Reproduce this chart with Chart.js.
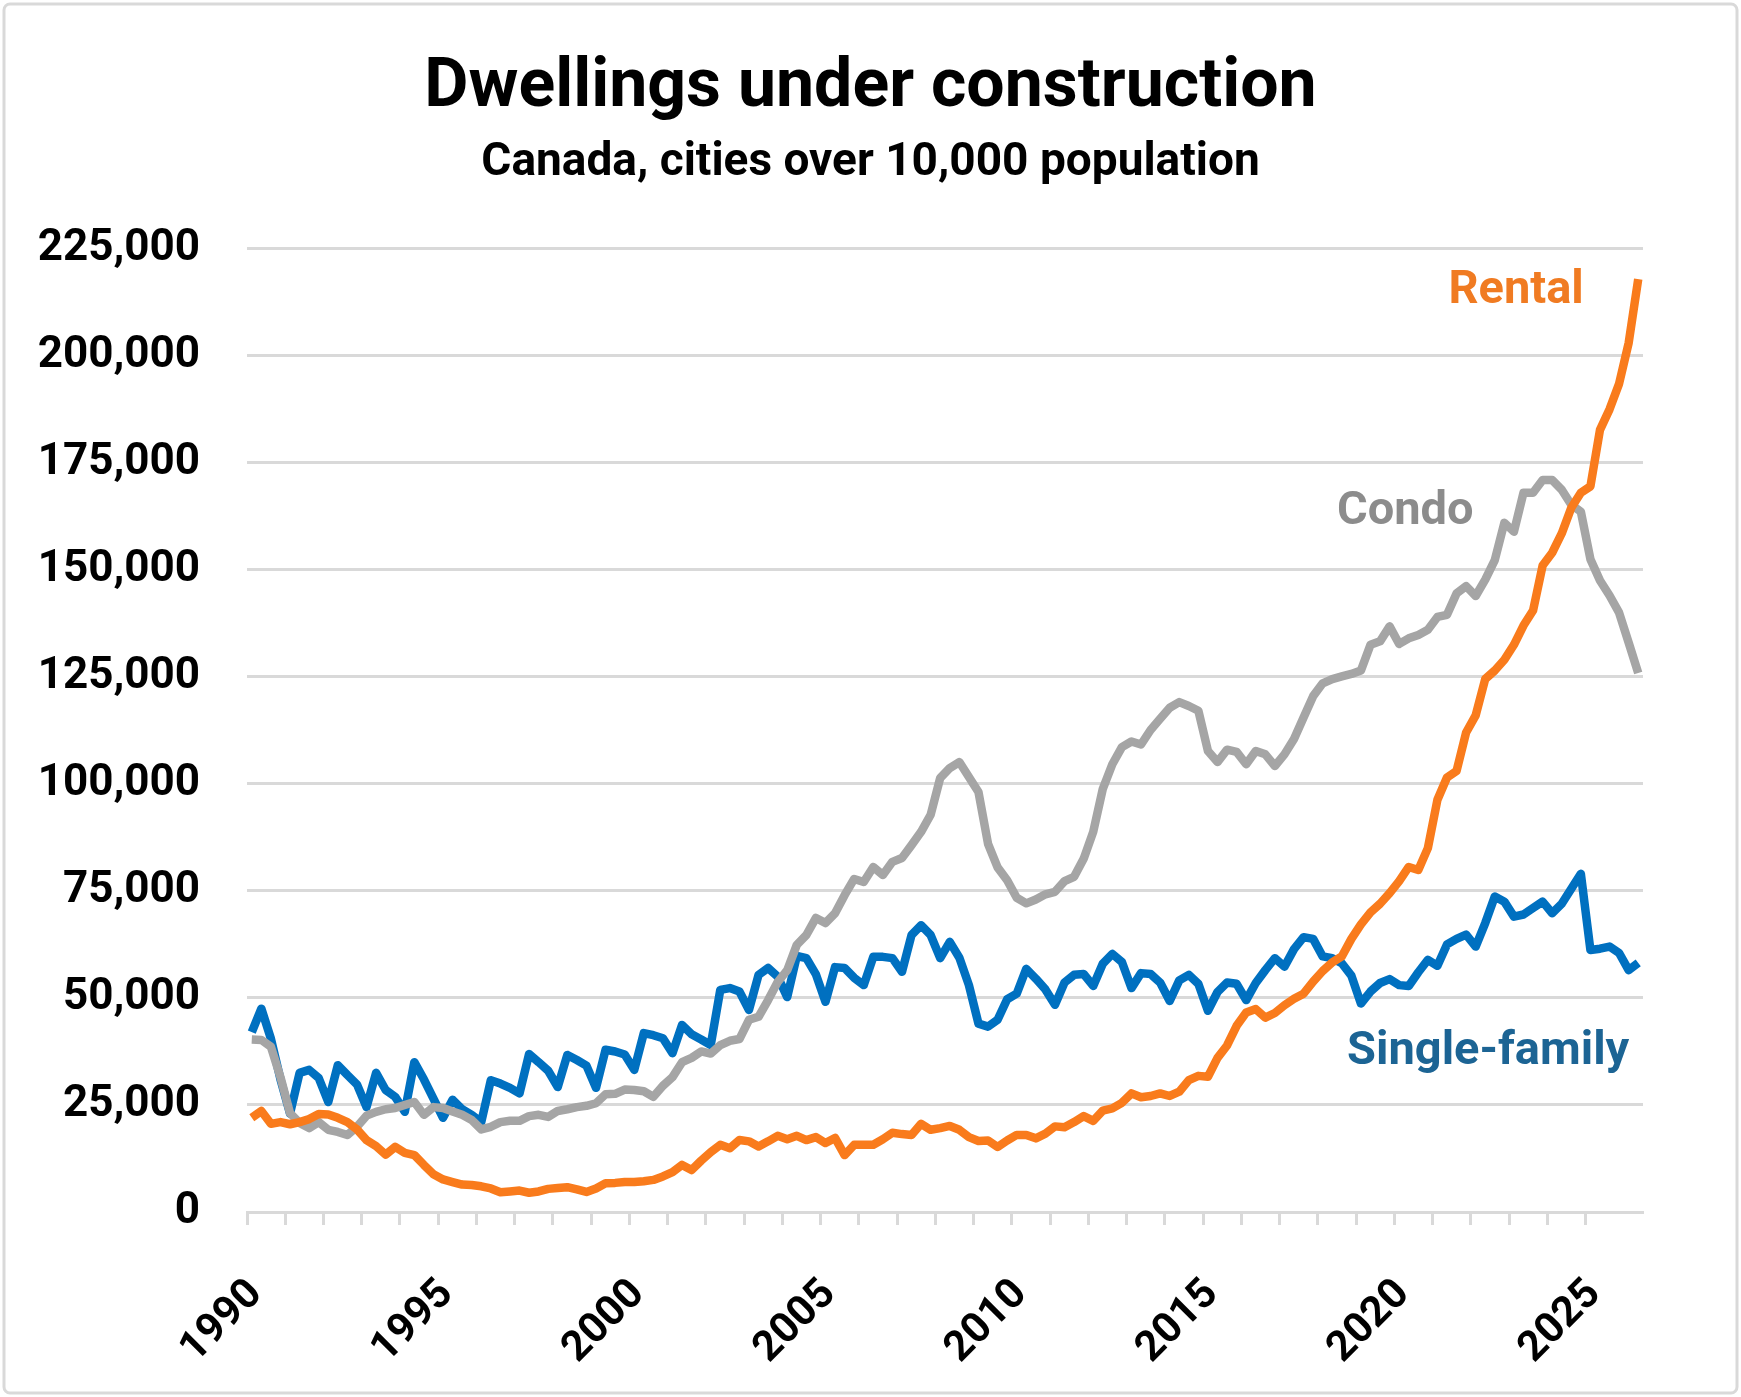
<html>

<head>
    <title>Dwellings under construction</title>
    <script src="https://cdn.jsdelivr.net/npm/chart.js@4.4.1/dist/chart.umd.min.js"></script>
    <style>
        body { margin: 0; background: #fff; }
    </style>
</head>

<body>
    <canvas id="chart" width="1741" height="1397"></canvas>
    <script>

        // quarters 1990 Q1 .. 2026 Q2, plotted at the middle of each quarter
        const firstYear = 1990;
        const quarters = [];
        for (let y = firstYear; y <= 2026; y++) {
            for (let q = 1; q <= 4; q++) {
                if (y === 2026 && q > 2) break;
                quarters.push(y + ' Q' + q);
            }
        }

        const singleFamily = [
            42000, 47500, 40500, 31000,   // 1990
            23000, 32500, 33200, 31300,
            25700, 34300, 32000, 29800,
            24500, 32500, 28500, 26900,
            23400, 35000, 31000, 26500,
            22000, 26200, 24000, 22700,   // 1995
            21000, 30800, 30000, 29000,
            27700, 36900, 35000, 33000,
            29200, 36700, 35500, 34200,
            29000, 37900, 37500, 36800,
            33200, 41800, 41300, 40600,   // 2000
            37100, 43700, 41500, 40300,
            39000, 51900, 52300, 51500,
            47200, 55400, 57000, 55000,
            50200, 59800, 59300, 55500,
            49100, 57200, 57000, 54700,   // 2005
            53000, 59600, 59600, 59300,
            56100, 64700, 67000, 64700,
            59300, 63100, 59400, 53000,
            44000, 43300, 44900, 49700,
            51000, 56800, 54500, 52000,   // 2010
            48400, 53600, 55400, 55600,
            52800, 58000, 60300, 58400,
            52300, 55800, 55600, 53600,
            49300, 54100, 55400, 53300,
            47000, 51400, 53600, 53300,   // 2015
            49500, 53500, 56500, 59300,
            57300, 61400, 64200, 63800,
            59700, 59300, 58100, 55200,
            48700, 51500, 53500, 54400,
            53000, 52800, 56000, 58900,   // 2020
            57500, 62500, 63800, 64800,
            62000, 67500, 73700, 72500,
            69000, 69500, 71000, 72500,
            69800, 72000, 75500, 79000,
            61200, 61500, 62000, 60500,   // 2025
            56500, 58200
        ];

        const condo = [
            40300, 40200, 38600, 31500,   // 1990
            23100, 20800, 19600, 21000,
            19200, 18700, 18000, 19900,
            22500, 23400, 24000, 24300,
            25000, 25700, 22700, 24500,
            24300, 23500, 22700, 21500,   // 1995
            19300, 19900, 21000, 21300,
            21300, 22400, 22700, 22200,
            23600, 24000, 24500, 24800,
            25400, 27500, 27600, 28600,
            28500, 28200, 26900, 29500,   // 2000
            31500, 35000, 36000, 37500,
            37000, 39000, 40000, 40400,
            44900, 45600, 49500, 53700,
            56500, 62400, 64700, 68700,
            67500, 69800, 74000, 77800,   // 2005
            77100, 80600, 78700, 81800,
            82700, 85700, 88800, 92800,
            101400, 103700, 105100, 101600,
            98100, 86000, 80500, 77500,
            73400, 72100, 73000, 74200,   // 2010
            74800, 77300, 78300, 82500,
            88800, 98800, 104600, 108600,
            109900, 109200, 112600, 115200,
            117800, 119100, 118200, 117100,
            107700, 105100, 108000, 107500, // 2015
            104600, 107700, 106900, 104200,
            106900, 110500, 115500, 120500,
            123500, 124500, 125100, 125700,
            126500, 132500, 133300, 136800,
            132700, 134000, 134800, 136000, // 2020
            139000, 139500, 144500, 146200,
            143900, 147700, 152300, 161000,
            158900, 168000, 168000, 171000,
            171000, 168700, 165200, 163600,
            152500, 147500, 144000, 140000, // 2025
            133000, 125900
        ];

        const rental = [
            22000, 23600, 20600, 21000,   // 1990
            20500, 21000, 21700, 22900,
            22800, 22000, 21000, 19300,
            16800, 15400, 13400, 15200,
            13800, 13300, 11000, 8800,
            7600, 7000, 6400, 6300,       // 1995
            6000, 5500, 4600, 4800,
            5000, 4500, 4800, 5400,
            5600, 5800, 5300, 4700,
            5500, 6700, 6800, 7000,
            7000, 7200, 7500, 8300,       // 2000
            9300, 11000, 9800, 12000,
            14000, 15700, 14900, 16800,
            16500, 15300, 16500, 17800,
            17000, 17800, 16800, 17500,
            16100, 17300, 13300, 15700,   // 2005
            15700, 15700, 17000, 18500,
            18200, 18000, 20600, 19200,
            19600, 20100, 19200, 17500,
            16600, 16700, 15200, 16700,
            18000, 18000, 17200, 18300,   // 2010
            20000, 19800, 21000, 22400,
            21300, 23700, 24200, 25500,
            27700, 26800, 27100, 27700,
            27100, 28100, 30800, 31800,
            31600, 36000, 38900, 43500,   // 2015
            46600, 47400, 45400, 46500,
            48300, 49800, 51000, 53800,
            56300, 58300, 59700, 63800,
            67200, 70000, 72000, 74500,
            77300, 80600, 79900, 85000,   // 2020
            96300, 101500, 103000, 112000,
            116000, 124500, 126500, 129000,
            132500, 137000, 140500, 151000,
            154000, 158500, 164500, 168000,
            169500, 182700, 187500, 193500, // 2025
            203000, 217900
        ];

        const yearLabels = [1990, 1995, 2000, 2005, 2010, 2015, 2020, 2025];

        const seriesLabels = [
            { text: 'Rental', color: '#F07B22', year: 2024.95, value: 215000 },
            { text: 'Condo', color: '#8C8C8C', year: 2022.07, value: 163500 },
            { text: 'Single-family', color: '#1C6494', year: 2026.14, value: 37400 }
        ];

        function quarterX(label) {
            const parts = label.split(' Q');
            return Number(parts[0]) + (Number(parts[1]) - 0.5) / 4;
        }

        function points(values) {
            return values.map((v, i) => ({ x: quarterX(quarters[i]), y: v }));
        }

        const FONT = 'Roboto, "Open Sans", sans-serif';

        const frame = {
            id: 'frame',
            beforeDraw(chart) {
                const c = chart.ctx;
                c.save();
                c.fillStyle = '#ffffff';
                c.fillRect(0, 0, chart.width, chart.height);
                c.strokeStyle = '#d9d9d9';
                c.lineWidth = 3;
                c.beginPath();
                c.roundRect(4, 4, chart.width - 8, chart.height - 8, 6);
                c.stroke();
                c.restore();
            }
        };

        const lineLabels = {
            id: 'lineLabels',
            afterDatasetsDraw(chart) {
                const c = chart.ctx;
                const xs = chart.scales.x, ys = chart.scales.y;
                c.save();
                c.font = 'bold 47px ' + FONT;
                c.textAlign = 'right';
                c.textBaseline = 'middle';
                seriesLabels.forEach(l => {
                    c.fillStyle = l.color;
                    c.fillText(l.text, xs.getPixelForValue(l.year), ys.getPixelForValue(l.value));
                });
                c.restore();
            }
        };

        let ctx = document.getElementById('chart').getContext('2d');
        let chart = new Chart(ctx, {
            type: 'line',
            data: {
                datasets: [{
                    label: 'Rental',
                    data: points(rental),
                    borderColor: '#F97B1C',
                    order: 0
                }, {
                    label: 'Condo',
                    data: points(condo),
                    borderColor: '#A5A5A5',
                    order: 1
                }, {
                    label: 'Single-family',
                    data: points(singleFamily),
                    borderColor: '#0070C0',
                    order: 2
                }]
            },
            options: {
                responsive: false,
                devicePixelRatio: 1,
                animation: false,
                layout: {
                    padding: { left: 0, right: 0, top: 0, bottom: 10 }
                },
                elements: {
                    point: { radius: 0 },
                    line: {
                        borderWidth: 8.5,
                        tension: 0,
                        borderJoinStyle: 'round',
                        borderCapStyle: 'butt'
                    }
                },
                plugins: {
                    legend: { display: false },
                    tooltip: { enabled: false },
                    title: {
                        display: true,
                        text: 'Dwellings under construction',
                        color: '#000',
                        font: { family: FONT, size: 68, weight: 'bold' },
                        padding: { top: 48, bottom: 6 }
                    },
                    subtitle: {
                        display: true,
                        text: 'Canada, cities over 10,000 population',
                        color: '#000',
                        font: { family: FONT, size: 46, weight: 'bold' },
                        padding: { top: 0, bottom: 58 }
                    }
                },
                scales: {
                    x: {
                        type: 'linear',
                        min: 1990,
                        max: 2026.5,
                        afterFit(scale) { scale.height = 1397 - 1212 - 10; },
                        afterBuildTicks(scale) {
                            scale.ticks = scale.ticks.filter(t => Number.isInteger(t.value));
                        },
                        border: { display: true, color: '#d9d9d9', width: 3 },
                        grid: {
                            drawOnChartArea: false,
                            drawTicks: true,
                            tickLength: 13,
                            tickWidth: 3,
                            tickColor: '#d9d9d9'
                        },
                        ticks: {
                            stepSize: 1,
                            autoSkip: false,
                            maxRotation: 45,
                            minRotation: 45,
                            padding: 45,
                            labelOffset: 9,
                            color: '#000',
                            font: { family: FONT, size: 42, weight: 'bold' },
                            callback: v => yearLabels.includes(v) ? String(v) : ''
                        }
                    },
                    y: {
                        min: 0,
                        max: 225000,
                        afterFit(scale) { scale.width = 247; },
                        border: { display: false },
                        grid: {
                            color: '#d9d9d9',
                            lineWidth: 3,
                            drawTicks: false
                        },
                        ticks: {
                            stepSize: 25000,
                            padding: 47,
                            color: '#000',
                            font: { family: FONT, size: 44, weight: 'bold' },
                            callback: v => v.toLocaleString('en-US')
                        }
                    },
                    // empty right-hand margin so the titles stay centred on the page
                    spacer: {
                        position: 'right',
                        afterFit(scale) { scale.width = 98; },
                        border: { display: false },
                        grid: { display: false },
                        ticks: { display: false }
                    }
                }
            },
            plugins: [frame, lineLabels]
        });
    </script>
</body>

</html>
